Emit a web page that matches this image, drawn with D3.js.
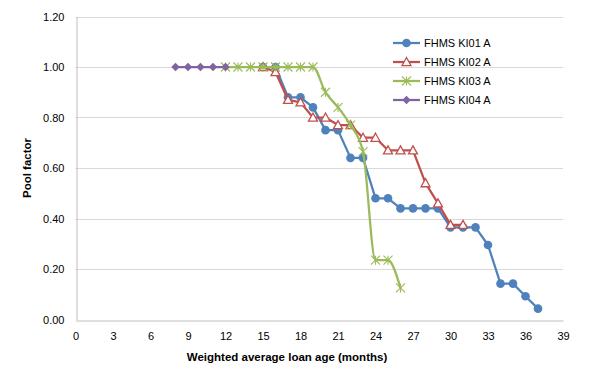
<!DOCTYPE html>
<html><head><meta charset="utf-8">
<script src="https://cdn.jsdelivr.net/npm/d3@7/dist/d3.min.js"></script>
<style>body{margin:0;background:#fff}svg{display:block;font-family:"Liberation Sans",Arial,sans-serif}</style>
</head><body><svg id="c" width="589" height="380"></svg>
<script>
const xTicks = [0,3,6,9,12,15,18,21,24,27,30,33,36,39];
const yTicks = [0,0.2,0.4,0.6,0.8,1.0,1.2];
const seriesNames = ["FHMS KI01 A","FHMS KI02 A","FHMS KI03 A","FHMS KI04 A"];
const ki01Age = [15,16,17,18,19,20,21,22,23,24,25,26,27,28,29,30,31,32,33,34,35,36,37];
const ki01Val = [1.00,1.00,0.88,0.88,0.84,0.75,0.75,0.64,0.64,0.48,0.48,0.44,0.44,0.44,0.44,0.365,0.365,0.365,0.295,0.142,0.142,0.092,0.043];
const ki02Age = [15,16,17,18,19,20,21,22,23,24,25,26,27,28,29,30,31];
const ki02Val = [1.00,0.98,0.87,0.86,0.80,0.80,0.77,0.77,0.72,0.72,0.67,0.67,0.67,0.54,0.46,0.375,0.375];
const ki03Age = [12,13,14,15,16,17,18,19,20,21,22,23,24,25,26];
const ki03Val = [1.00,1.00,1.00,1.00,1.00,1.00,1.00,1.00,0.90,0.84,0.77,0.665,0.235,0.235,0.125];
const ki04Age = [8,9,10,11,12];
const ki04Val = [1.00,1.00,1.00,1.00,1.00];
const colors = ["#4F81BD","#C0504D","#9BBB59","#8064A2"];

const svg = d3.select("#c");
const x = d3.scaleLinear().domain([0,39]).range([75.5,563]);
const y = d3.scaleLinear().domain([0,1.2]).range([319.5,16.5]);

// gridlines
svg.append("g").selectAll("line").data(yTicks.slice(1)).join("line")
  .attr("x1",x(0)).attr("x2",x(39)).attr("y1",d=>Math.round(y(d))+0.5).attr("y2",d=>Math.round(y(d))+0.5)
  .attr("stroke","#D9D9D9").attr("stroke-width",1);

// axes
const yAxis = d3.axisLeft(y).tickValues(yTicks).tickFormat(d3.format(".2f")).tickSize(0).tickPadding(12);
const gy = svg.append("g").attr("transform",`translate(${Math.round(x(0))+0.5},0)`).call(yAxis);
const xAxis = d3.axisBottom(x).tickValues(xTicks).tickFormat(d3.format("d")).tickSize(0).tickPadding(12);
const gx = svg.append("g").attr("transform",`translate(0,${Math.round(y(0))+0.5})`).call(xAxis);
[gx,gy].forEach(g=>{
  g.select(".domain").attr("stroke","#BFBFBF");
  g.selectAll("text").attr("font-size","11px").attr("fill","#000").attr("font-family","'Liberation Sans',Arial,sans-serif");
});

// titles
svg.append("text").attr("x",287).attr("y",361).attr("text-anchor","middle")
  .attr("font-size","11.5px").attr("font-weight","bold").text("Weighted average loan age (months)");
svg.append("text").attr("transform","translate(31,168) rotate(-90)").attr("text-anchor","middle")
  .attr("font-size","11.5px").attr("font-weight","bold").text("Pool factor");

const data = [
  {age:ki01Age,val:ki01Val},{age:ki02Age,val:ki02Val},{age:ki03Age,val:ki03Val},{age:ki04Age,val:ki04Val}
].map((s,i)=>({name:seriesNames[i],color:colors[i],pts:s.age.map((a,j)=>[a,s.val[j]])}));

function marker(g,i,cx,cy,color){
  if(i===0){
    g.append("circle").attr("cx",cx).attr("cy",cy).attr("r",4.3).attr("fill",color);
  } else if(i===1){
    const s=4.5;
    g.append("path").attr("d",`M${cx},${cy-s}L${cx+s},${cy+s*0.8}L${cx-s},${cy+s*0.8}Z`)
      .attr("fill","#fff").attr("stroke",color).attr("stroke-width",1.3);
  } else if(i===2){
    const s=4.5;
    g.append("path").attr("d",`M${cx-s},${cy-s}L${cx+s},${cy+s}M${cx-s},${cy+s}L${cx+s},${cy-s}M${cx},${cy-s}L${cx},${cy+s}`)
      .attr("fill","none").attr("stroke",color).attr("stroke-width",1.1);
  } else {
    const s=4.2;
    g.append("path").attr("d",`M${cx},${cy-s}L${cx+s},${cy}L${cx},${cy+s}L${cx-s},${cy}Z`).attr("fill",color);
  }
}

data.forEach((s,i)=>{
  const line = d3.line().x(d=>x(d[0])).y(d=>y(d[1])).curve(i===2?d3.curveMonotoneX:d3.curveLinear);
  const g = svg.append("g");
  g.append("path").attr("d",line(s.pts)).attr("fill","none").attr("stroke",s.color).attr("stroke-width",2.25).attr("stroke-linejoin","round");
  s.pts.forEach(p=>marker(g,i,x(p[0]),y(p[1]),s.color));
});

// legend
const lg = svg.append("g");
data.forEach((s,i)=>{
  const ly = 43 + i*19;
  lg.append("line").attr("x1",393).attr("x2",420).attr("y1",ly).attr("y2",ly).attr("stroke",s.color).attr("stroke-width",2.25);
  marker(lg,i,406.5,ly,s.color);
  lg.append("text").attr("x",424).attr("y",ly+4).attr("font-size","11px").text(s.name);
});
</script></body></html>
